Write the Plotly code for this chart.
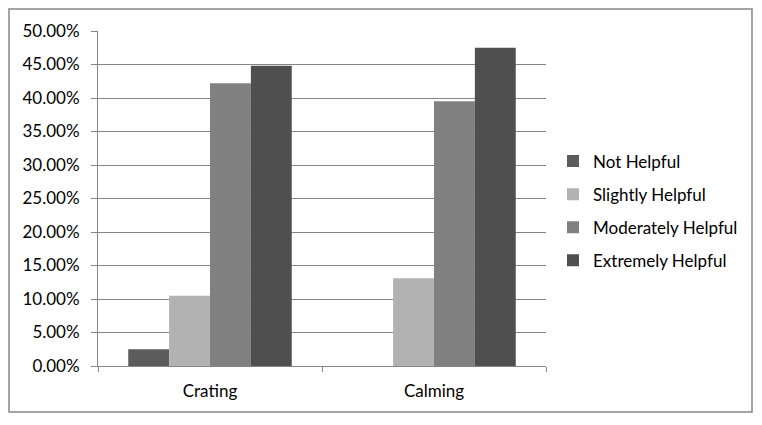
import plotly.graph_objects as go

categories = ["Crating", "Calming"]
series_names = ["Not Helpful", "Slightly Helpful", "Moderately Helpful", "Extremely Helpful"]
not_helpful = [0.025, 0.0]
slightly_helpful = [0.105, 0.131]
moderately_helpful = [0.422, 0.395]
extremely_helpful = [0.448, 0.475]
colors = ["#5c5c5c", "#b2b2b2", "#808080", "#4f4f4f"]
y_ticks = [i * 0.05 for i in range(11)]

W, H = 762, 425
L, R, T, B = 98, 216, 31, 59

fig = go.Figure()
for name, vals, c in zip(series_names,
                         [not_helpful, slightly_helpful, moderately_helpful, extremely_helpful],
                         colors):
    fig.add_trace(go.Bar(x=categories, y=vals, name=name, marker_color=c,
                         marker_line_width=0, legendgroup=name))

pw = W - L - R
ph = H - T - B
bx0, bx1, by0, by1 = 9, 752, 9, 412
fig.add_shape(type="rect", xref="paper", yref="paper",
              x0=(bx0 - L) / pw, x1=(bx1 - L) / pw,
              y0=(H - B - by1) / ph, y1=(H - B - by0) / ph,
              line=dict(color="#868686", width=1.5), fillcolor="rgba(0,0,0,0)", layer="below")

fig.update_layout(
    width=W, height=H,
    margin=dict(l=L, r=R, t=T, b=B, autoexpand=False),
    paper_bgcolor="white", plot_bgcolor="white",
    barmode="group", bargap=0.27, bargroupgap=0,
    font=dict(family="Lato", size=17, color="#000000"),
    showlegend=True,
    legend=dict(x=(553 - L) / pw, y=(H - B - 211) / ph, yanchor="middle", xanchor="left",
                tracegroupgap=8, font=dict(size=17), itemwidth=30,
                bgcolor="rgba(0,0,0,0)"),
    xaxis=dict(showline=True, linecolor="#868686", linewidth=1,
               ticks="outside", tickson="boundaries", ticklen=5, tickcolor="#868686",
               ticklabelstandoff=10, showgrid=False),
    yaxis=dict(range=[0, 0.5], tickvals=y_ticks, tickformat=".2%",
               showline=True, linecolor="#868686", linewidth=1,
               ticks="outside", ticklen=6, tickcolor="#868686", ticklabelstandoff=8,
               showgrid=True, gridcolor="#868686", gridwidth=1, zeroline=False),
)
fig.write_html("out.html", config={"displayModeBar": False},
               post_script="document.body.style.margin='0';document.body.style.overflow='hidden';")
